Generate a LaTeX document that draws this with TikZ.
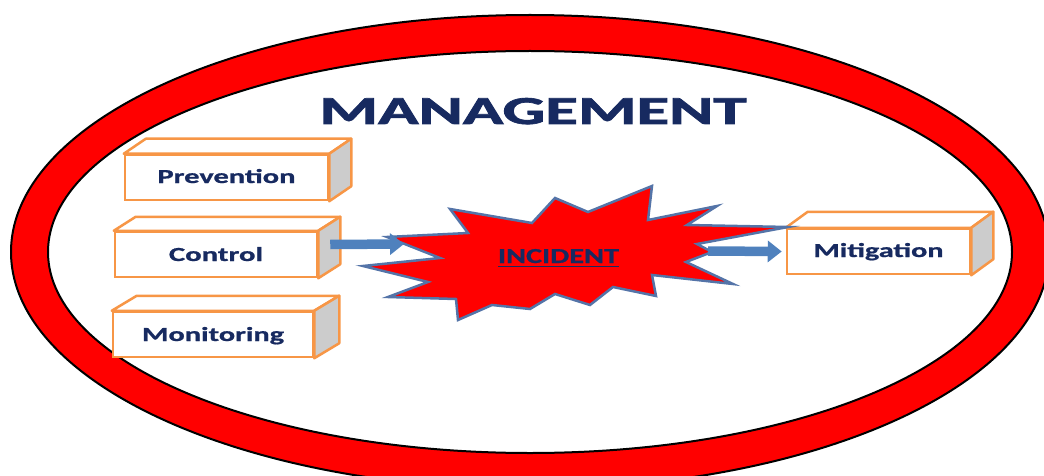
\documentclass[tikz,border=0pt]{standalone}
\usepackage{fontspec}
\setmainfont{Carlito}
\newfontfamily\heavyfont{Carlito}[BoldFeatures={FakeBold=1.6}]
\newfontfamily\midfont{Carlito}[BoldFeatures={FakeBold=0.8}]
\usetikzlibrary{arrows.meta}
\definecolor{navy}{RGB}{23,42,96}
\definecolor{boxorange}{RGB}{247,150,70}
\definecolor{sidegray}{RGB}{204,204,204}
\definecolor{starblue}{RGB}{84,116,168}
\definecolor{arrowblue}{RGB}{79,129,189}
\newcommand\fitw[3]{\resizebox{#1pt}{#2pt}{\midfont\bfseries #3}}
\newcommand\fitheavy[3]{\resizebox{#1pt}{#2pt}{\heavyfont\bfseries #3}}
\newcommand\cuboidbox[8]{%
  \node[front, minimum width=#4pt, text depth=#5pt] (#1) at (#2,#3) {#8};
  \draw[face] (#1.north west) -- ++(#6,#7) -- ([shift={(#6,#7)}]#1.north east) -- (#1.north east) -- cycle;
  \draw[sideface] (#1.north east) -- ++(#6,#7) -- ([shift={(#6,#7)}]#1.south east) -- (#1.south east) -- cycle;
}
\begin{document}
\begin{tikzpicture}[x=1pt,y=-1pt,
  front/.style={draw=boxorange, line width=2.5pt, fill=white, inner sep=0pt, minimum height=45pt, text=navy, text height=14pt},
  face/.style={draw=boxorange, line width=2.5pt, fill=white, line join=round},
  sideface/.style={face, fill=sidegray},
  barrow/.style={arrowblue, line width=9.5pt, -{Triangle[length=14pt,width=21pt]}},
  star/.style={fill=red, draw=starblue, line width=2.5pt, line join=miter},
  title/.style={anchor=base, text=navy, inner sep=0pt}
]
\useasboundingbox (0,0) rectangle (1044,476);
% red ring
\fill[red, even odd rule] (530,252) ellipse [x radius=519, y radius=237]
                          (530,252) ellipse [x radius=482, y radius=201];
\draw[line width=2pt] (530,252) ellipse [x radius=519, y radius=237];
\draw[line width=2pt] (530,252) ellipse [x radius=482, y radius=201];

% title
\node[title] (mgmt) at (533,124) {\fitheavy{427}{26}{MANAGEMENT}};

% boxes
\cuboidbox{prev}{226.5}{177.5}{203}{3}{22}{-15}{\fitw{138}{14}{Prevention}}
\cuboidbox{ctrl}{216}{254.5}{202}{1}{22}{-14}{\fitw{94}{14}{Control}}
\cuboidbox{moni}{213}{334.5}{200}{1}{25}{-15}{\fitw{142}{14}{Monitoring}}
\cuboidbox{miti}{878.5}{251.5}{183}{3}{22}{-16}{\fitw{130}{14}{Mitigation}}

% incident star
\draw[star] (363,266) -- (440,258) -- (387,237) -- (468,233) -- (450,209) -- (532,223)
  -- (555,198) -- (588,212) -- (652,186) -- (648,220) -- (717,206) -- (687,225)
  -- (788,227) -- (697,244) -- (712,252) -- (686,262) -- (733,284) -- (652,275)
  -- (656,296) -- (613,287) -- (590,305) -- (555,294) -- (530,309) -- (492,305)
  -- (458,320) -- (456,299) -- (388,297) -- (428,282) -- cycle;
\node[title] (inc) at (558.5,263) {\fitw{121}{14}{\underline{INCIDENT}}};

% arrows
\coordinate (inIn) at (404,244);
\coordinate (outStart) at (708,251);
\draw[barrow] ([shift={(12,-10)}]ctrl.east) -- (inIn);
\draw[barrow] (outStart) -- ([xshift=-4pt]miti.west);
\end{tikzpicture}
\end{document}
